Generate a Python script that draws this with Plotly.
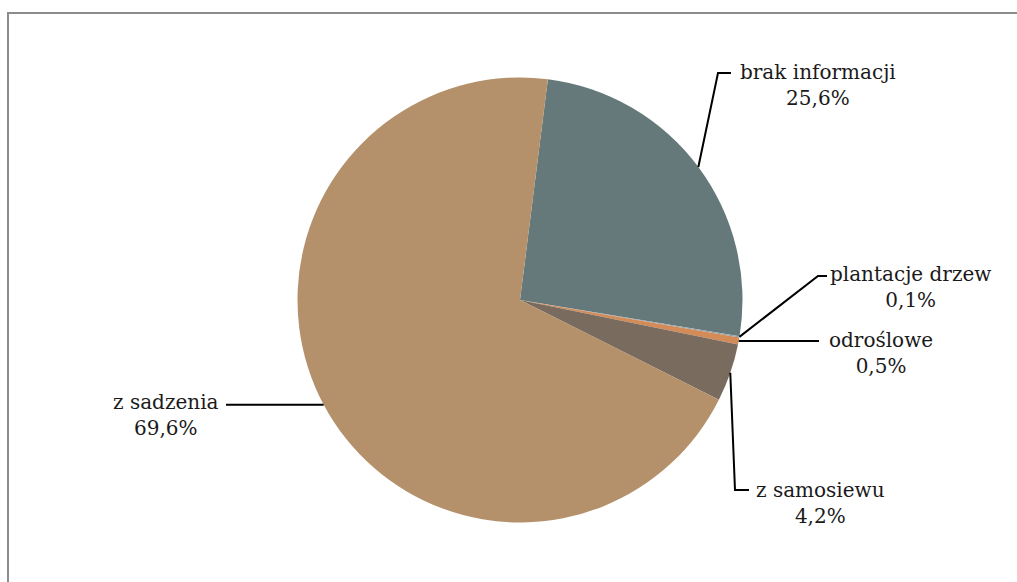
import math
import plotly.graph_objects as go

# Struktura drzewostanów według pochodzenia
labels = ["brak informacji", "plantacje drzew", "odroślowe", "z samosiewu", "z sadzenia"]
shares = [25.6, 0.1, 0.5, 4.2, 69.6]
share_text = ["25,6%", "0,1%", "0,5%", "4,2%", "69,6%"]
colors = ["#66797A", "#8FA4AE", "#D38B58", "#7A6B5F", "#B4916B"]

W, H = 1017, 582
CX, CY, R = 520.0, 300.0, 222.5
ROTATION = 7.2

FONT = "DejaVu Serif"
FSIZE = 20


def px(x):
    return x / W


def py(y):
    return 1 - y / H


fig = go.Figure(
    go.Pie(
        labels=labels,
        values=shares,
        sort=False,
        direction="clockwise",
        rotation=ROTATION,
        marker=dict(colors=colors, line=dict(width=0)),
        textinfo="none",
        hoverinfo="label+percent",
        showlegend=False,
        domain=dict(x=[px(CX - R), px(CX + R)], y=[py(CY + R), py(CY - R)]),
    )
)

# slice mid-points on the rim, computed from the shares
total = sum(shares)
anchors = []
acc = 0.0
for v in shares:
    mid = math.radians(ROTATION + (acc + v / 2) / total * 360)
    anchors.append((CX + R * math.sin(mid), CY - R * math.cos(mid)))
    acc += v

# leader-line bends and label centres for each slice
bends = {
    "brak informacji": [(718, 73), (731, 73)],
    "plantacje drzew": [(818, 276), (827, 276)],
    "odroślowe": [(819, None)],
    "z samosiewu": [(735, 490), (749, 490)],
    "z sadzenia": [(226, None)],
}
label_pos = {
    "brak informacji": (818, 85),
    "plantacje drzew": (910, 287),
    "odroślowe": (881, 353),
    "z samosiewu": (820, 503),
    "z sadzenia": (166, 415),
}

shapes = []
annotations = []
for name, txt, (ax, ay) in zip(labels, share_text, anchors):
    pts = [(ax, ay)]
    for bx, by in bends[name]:
        pts.append((bx, ay if by is None else by))
    path = "M " + " L ".join(f"{px(x):.5f},{py(y):.5f}" for x, y in pts)
    shapes.append(dict(type="path", xref="paper", yref="paper", path=path,
                       line=dict(color="#000000", width=2)))
    lx, ly = label_pos[name]
    annotations.append(dict(
        x=px(lx), y=py(ly), xref="paper", yref="paper",
        text=f"{name}<br>{txt}", showarrow=False, align="center",
        xanchor="center", yanchor="middle",
        font=dict(family=FONT, size=FSIZE, color="#1a1a1a"),
    ))

# chart frame
shapes.append(dict(type="rect", xref="paper", yref="paper",
                   x0=px(8), y0=py(H + 20), x1=px(W + 20), y1=py(13),
                   line=dict(color="#8C8C8C", width=2), fillcolor="rgba(0,0,0,0)"))

fig.update_layout(
    width=W, height=H,
    margin=dict(l=0, r=0, t=0, b=0),
    paper_bgcolor="#FFFFFF",
    plot_bgcolor="#FFFFFF",
    font=dict(family=FONT),
    shapes=shapes,
    annotations=annotations,
)

fig.write_html("out.html")
